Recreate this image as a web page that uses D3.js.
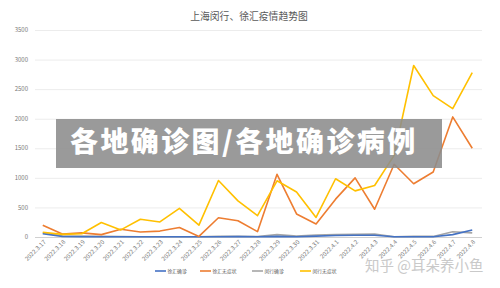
<!DOCTYPE html>
<html>
<head>
<meta charset="utf-8">
<script src="https://cdn.jsdelivr.net/npm/d3@7"></script>
<style>
  body { margin: 0; background: #fff; }
  svg { display: block; font-family: "Noto Sans CJK SC", "Noto Sans", sans-serif; }
</style>
</head>
<body>
<div id="chart"></div>
<script>
const dates = ["2022.3.17", "2022.3.18", "2022.3.19", "2022.3.20", "2022.3.21", "2022.3.22",
  "2022.3.23", "2022.3.24", "2022.3.25", "2022.3.26", "2022.3.27", "2022.3.28", "2022.3.29",
  "2022.3.30", "2022.3.31", "2022.4.1", "2022.4.2", "2022.4.3", "2022.4.4", "2022.4.5",
  "2022.4.6", "2022.4.7", "2022.4.8"];

const xuhuiConfirmed = [55, 8, 5, 5, 3, 3, 3, 3, 3, 5, 8, 3, 10, 5, 15, 25, 30, 30, 5, 5, 5, 40, 120];
const xuhuiAsym = [200, 50, 70, 40, 130, 85, 100, 160, 10, 325, 275, 90, 1060, 390, 220, 640, 1000, 470, 1230, 900, 1100, 2030, 1500];
const minhangConfirmed = [70, 20, 15, 10, 8, 5, 5, 5, 3, 10, 10, 8, 40, 15, 35, 40, 45, 50, 5, 10, 10, 90, 70];
const minhangAsym = [80, 45, 55, 245, 120, 300, 255, 485, 200, 955, 610, 360, 950, 760, 330, 985, 780, 870, 1380, 2900, 2390, 2170, 2780];

const seriesNames = ["徐汇确诊", "徐汇无症状", "闵行确诊", "闵行无症状"];
const seriesColors = ["#4472c4", "#ed7d31", "#a5a5a5", "#ffc000"];
const yTicks = [0, 500, 1000, 1500, 2000, 2500, 3000, 3500];

const title = "上海闵行、徐汇疫情趋势图";
const bannerText = "各地确诊图/各地确诊病例";
const watermark = "知乎 @耳朵养小鱼";

const width = 500, height = 288;

const svg = d3.select("#chart").append("svg")
  .attr("width", width)
  .attr("height", height);

const x = d3.scalePoint().domain(dates).range([33, 482]).padding(0.5);
const y = d3.scaleLinear().domain([0, 3500]).range([237, 30]);

// grid
svg.append("g")
  .attr("transform", "translate(35,0)")
  .call(d3.axisLeft(y).tickValues(yTicks).tickSize(-447).tickFormat(""))
  .call(g => g.select(".domain").remove())
  .call(g => g.selectAll("line").attr("stroke", d => d === 0 ? "#d0d0d0" : "#ececec"));

// y labels
svg.append("g").selectAll("text")
  .data(yTicks)
  .enter()
  .append("text")
  .attr("x", 28)
  .attr("y", d => y(d))
  .attr("dy", "0.35em")
  .attr("text-anchor", "end")
  .style("font-size", "6px")
  .style("fill", "#7a7a7a")
  .text(d => d);

// x labels
svg.append("g").selectAll("text")
  .data(dates)
  .enter()
  .append("text")
  .attr("transform", d => `translate(${x(d) + 2},${241}) rotate(-45)`)
  .attr("text-anchor", "end")
  .attr("dy", "0.35em")
  .style("font-size", "6px")
  .style("fill", "#7a7a7a")
  .text(d => d);

const allSeries = [xuhuiConfirmed, xuhuiAsym, minhangConfirmed, minhangAsym];
const line = d3.line()
  .x((d, i) => x(dates[i]))
  .y(d => y(d));

// draw in order so yellow and orange sit above the flat lines
[2, 0, 1, 3].forEach(k => {
  svg.append("path")
    .datum(allSeries[k])
    .attr("fill", "none")
    .attr("stroke", seriesColors[k])
    .attr("stroke-width", 1.6)
    .attr("stroke-linejoin", "round")
    .attr("d", line);
});

// title
svg.append("text")
  .attr("x", 249)
  .attr("y", 17)
  .attr("dy", "0.35em")
  .attr("text-anchor", "middle")
  .style("font-size", "9.8px")
  .style("fill", "#595959")
  .text(title);

// legend
const legendX = [155, 200, 252, 300];
const legend = svg.append("g").selectAll("g")
  .data(seriesNames)
  .enter()
  .append("g")
  .attr("transform", (d, i) => `translate(${legendX[i]},271)`);

legend.append("line")
  .attr("x1", 0).attr("x2", 11)
  .attr("stroke", (d, i) => seriesColors[i])
  .attr("stroke-width", 1.6);

legend.append("text")
  .attr("x", 12.5)
  .attr("dy", "0.35em")
  .style("font-size", "4.8px")
  .style("fill", "#595959")
  .text(d => d);

// overlay banner
svg.append("rect")
  .attr("x", 56)
  .attr("y", 119)
  .attr("width", 386)
  .attr("height", 49)
  .attr("fill", "#8c8c8c")
  .attr("opacity", 0.88);

svg.append("text")
  .attr("x", 70)
  .attr("y", 142)
  .attr("dy", "0.36em")
  .style("font-size", "28px")
  .style("font-weight", "900")
  .style("letter-spacing", "2.4px")
  .style("fill", "#fff")
  .text(bannerText);

// watermark
svg.append("text")
  .attr("x", 365)
  .attr("y", 266)
  .attr("dy", "0.36em")
  .style("font-size", "14.5px")
  .style("fill", "#c4c4c4")
  .style("opacity", 0.9)
  .text(watermark);
</script>
</body>
</html>
